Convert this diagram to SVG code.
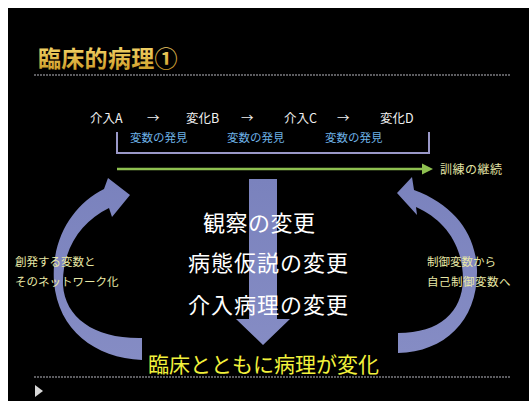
<svg xmlns="http://www.w3.org/2000/svg" width="529" height="401" viewBox="0 0 529 401">
<defs>
<linearGradient id="gold" x1="0" y1="0" x2="0" y2="1">
<stop offset="0" stop-color="#fbe27a"/>
<stop offset="1" stop-color="#c8951e"/>
</linearGradient>
<linearGradient id="blueArrow" x1="0" y1="0" x2="0" y2="1">
<stop offset="0" stop-color="#7a82bd"/>
<stop offset="1" stop-color="#858cc4"/>
</linearGradient>
<style>
.jp{font-family:"Noto Sans CJK JP","Noto Sans",sans-serif;}
.row{font-size:12.5px;fill:#f0f0f0;}
.find{font-size:11.5px;fill:#6eb2e6;}
.mid{font-size:22px;fill:#ffffff;}
.side{font-size:11.5px;fill:#e8e8a6;}
.dash{stroke:#b8b8c0;stroke-width:1;stroke-dasharray:2 1;fill:none;}
.bigArrow{fill:url(#blueArrow);}
</style>
</defs>
<rect x="0" y="0" width="529" height="401" fill="#ffffff"/>
<rect x="8" y="8" width="521" height="393" fill="#000000"/>

<g id="title">
<text class="jp" x="38" y="67" font-size="23" font-weight="700" fill="url(#gold)" letter-spacing="0.3">臨床的病理①</text>
<line class="dash" x1="34" y1="75" x2="510" y2="75"/>
</g>

<g id="sequence">
<text class="jp row" x="90" y="123">介入A</text>
<text class="jp row" x="147" y="123">→</text>
<text class="jp row" x="186" y="123">変化B</text>
<text class="jp row" x="241" y="123">→</text>
<text class="jp row" x="284" y="123">介入C</text>
<text class="jp row" x="337" y="123">→</text>
<text class="jp row" x="380" y="123">変化D</text>
<text class="jp find" x="130" y="142">変数の発見</text>
<text class="jp find" x="227" y="142">変数の発見</text>
<text class="jp find" x="325" y="142">変数の発見</text>
</g>

<g id="connectors">
<path d="M117,132 L117,153 L429,153 L429,132" fill="none" stroke="#9a98c8" stroke-width="2"/>
<line x1="117" y1="169" x2="424" y2="169" stroke="#8ec050" stroke-width="2.5"/>
<polygon points="422,163.5 433,169 422,174.5" fill="#8ec050"/>
<path id="arrow-center" class="bigArrow" d="M249,179 L277,179 L277,319 L290,319 L263,345 L236,319 L249,319 Z"/>
<path id="arrow-left" class="bigArrow" d="M142,360 C95,358 58,330 54,282 C51,240 72,205 104,189 L108,178 L130,195 L112,217 L109,208 C80,222 62,250 63,285 C65,318 95,339 142,338 Z"/>
<path id="arrow-right" class="bigArrow" d="M398,353 C445,352 478,320 477,270 C476,235 455,205 414,190 L412,177 L397,193 L417,215 L416,207 C445,220 463,245 463,280 C462,312 440,333 398,333 Z"/>
</g>

<g id="training">
<text class="jp" x="440" y="174" font-size="12" fill="#e0e2a4" letter-spacing="0.5">訓練の継続</text>
</g>

<g id="changes">
<text class="jp mid" x="203" y="231" letter-spacing="0.5">観察の変更</text>
<text class="jp mid" x="188" y="271" letter-spacing="1">病態仮説の変更</text>
<text class="jp mid" x="188" y="313" letter-spacing="1">介入病理の変更</text>
</g>

<g id="left-label">
<text class="jp side" x="15" y="266">創発する変数と</text>
<text class="jp side" x="15" y="286">そのネットワーク化</text>
</g>

<g id="right-label">
<text class="jp side" x="427" y="266" font-size="12">制御変数から</text>
<text class="jp side" x="427" y="286" font-size="12" letter-spacing="0.5">自己制御変数へ</text>
</g>

<g id="result">
<text class="jp" x="148" y="372" font-size="21" fill="#f2f23c">臨床とともに病理が変化</text>
</g>

<g id="footer">
<line class="dash" x1="34" y1="377" x2="510" y2="377"/>
<polygon points="35,385 43,391 35,397" fill="#d8d8d8"/>
</g>
</svg>
